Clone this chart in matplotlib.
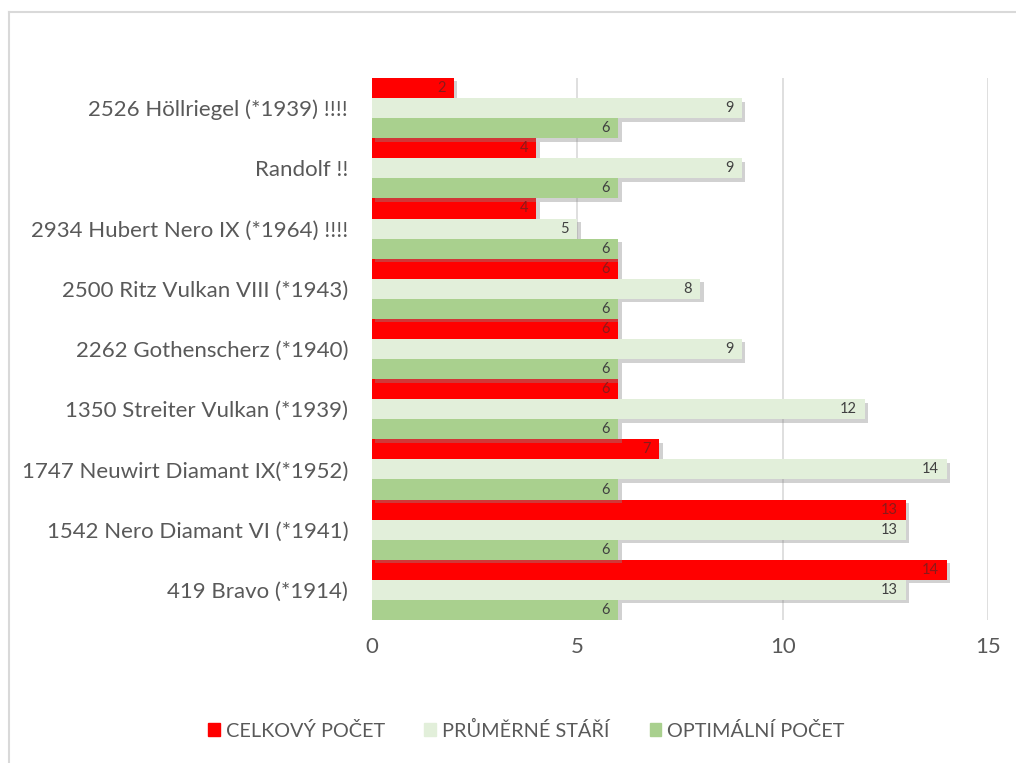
import matplotlib.pyplot as plt
import matplotlib.patheffects as pe
from matplotlib.lines import Line2D
from matplotlib.patches import Patch
import numpy as np

plt.rcParams['font.family'] = ['Lato', 'DejaVu Sans']

# categories from bottom to top
kategorie = ['419 Bravo (*1914)', '1542 Nero Diamant VI (*1941)', '1747 Neuwirt Diamant IX(*1952)',
             '1350 Streiter Vulkan (*1939)', '2262 Gothenscherz (*1940)', '2500 Ritz Vulkan VIII (*1943)',
             '2934 Hubert Nero IX (*1964) !!!!', 'Randolf !!', '2526 Höllriegel (*1939) !!!!']
celkovy = [14, 13, 7, 6, 6, 6, 4, 4, 2]
prumerne = [13, 13, 14, 12, 9, 8, 5, 9, 9]
optimalni = [6, 6, 6, 6, 6, 6, 6, 6, 6]

nazvy = ['CELKOVÝ POČET', 'PRŮMĚRNÉ STÁŘÍ', 'OPTIMÁLNÍ POČET']
barvy = ['#ff0000', '#e2efda', '#a9d08e']

fig = plt.figure(figsize=(10.16, 7.63), dpi=100)
ax = fig.add_axes([0.366, 0.1874, 0.6064, 0.7104])

y = np.arange(len(kategorie))
h = 1 / 3
stin = [pe.SimplePatchShadow(offset=(2.5, -2.5), shadow_rgbFace='#8c8c8c', alpha=0.4), pe.Normal()]
for i, (vals, c, n) in enumerate(zip([celkovy, prumerne, optimalni], barvy, nazvy)):
    pos = y + h - i * h
    bars = ax.barh(pos, vals, height=h, color=c, label=n, zorder=3)
    for b in bars:
        b.set_path_effects(stin)
    for p, v in zip(pos, vals):
        ax.text(v - 0.2, p, str(v), ha='right', va='center', fontsize=10.5,
                color='#8b1a1a' if i == 0 else '#404040', zorder=4)

ax.set_xlim(0, 15)
ax.set_ylim(-0.5, len(kategorie) - 0.5)
ax.set_xticks([0, 5, 10, 15])
ax.set_yticks(y)
ax.set_yticklabels(kategorie)
ax.tick_params(axis='both', length=0, labelsize=16, colors='#595959')
ax.tick_params(axis='x', pad=12)
ax.tick_params(axis='y', pad=17)
ax.grid(axis='x', color='#d9d9d9', linewidth=1.2, zorder=0)
for s in ax.spines.values():
    s.set_visible(False)

handles = [Patch(color=c) for c in barvy]
fig.legend(handles, nazvy, loc='center', bbox_to_anchor=(0.518, 0.043), ncol=3, frameon=False,
           fontsize=14.3, labelcolor='#595959', handlelength=0.6, handleheight=0.6,
           handletextpad=0.3, columnspacing=2.0)

fig.add_artist(Line2D([0.009, 1.0], [1 - 12 / 763] * 2, color='#d9d9d9', linewidth=1.5))
fig.add_artist(Line2D([0.009, 0.009], [0, 1 - 12 / 763], color='#d9d9d9', linewidth=1.5))

fig.savefig('out.png', dpi=100, facecolor='white')
